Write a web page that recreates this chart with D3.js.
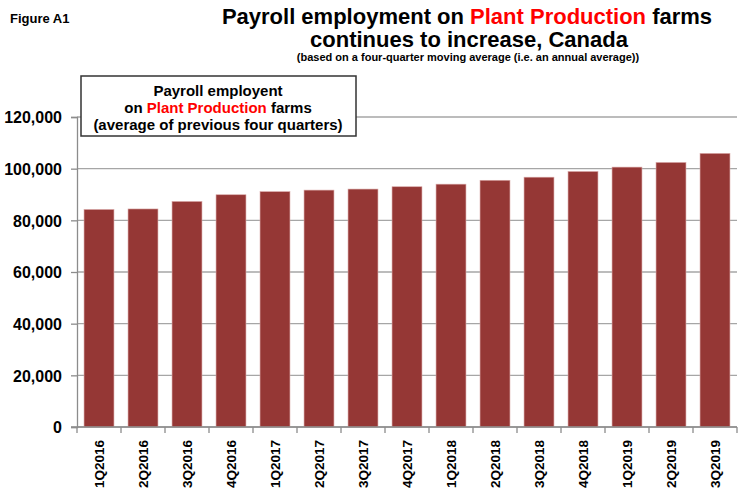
<!DOCTYPE html>
<html>
<head>
<meta charset="utf-8">
<script src="https://cdn.jsdelivr.net/npm/d3@7"></script>
<style>
  body { margin: 0; background: #fff; }
  svg { display: block; font-family: "Liberation Sans", Arial, sans-serif; font-weight: bold; }
</style>
</head>
<body>
<div id="vis-container"></div>
<script>
const width = 738,
    height = 491;

// quarters and payroll employment (four-quarter moving average)
var quarters = ["1Q2016", "2Q2016", "3Q2016", "4Q2016", "1Q2017", "2Q2017", "3Q2017", "4Q2017",
    "1Q2018", "2Q2018", "3Q2018", "4Q2018", "1Q2019", "2Q2019", "3Q2019"];
var employment = [84200, 84400, 87300, 89900, 91100, 91700, 92100, 93000,
    94000, 95500, 96700, 98900, 100600, 102400, 105900];
var yTicks = [0, 20000, 40000, 60000, 80000, 100000, 120000];

var plotLeft = 77, plotRight = 737, plotTop = 117, plotBottom = 427;

var svg = d3.select("#vis-container").append("svg")
    .attr("width", width)
    .attr("height", height);

var x = d3.scaleBand()
    .domain(quarters)
    .range([plotLeft, plotRight])
    .paddingInner(0.32)
    .paddingOuter(0.16);

var y = d3.scaleLinear()
    .domain([0, 120000])
    .range([plotBottom, plotTop]);

// gridlines
svg.append("g")
    .selectAll("line")
    .data(yTicks)
    .enter().append("line")
    .attr("x1", plotLeft).attr("x2", plotRight)
    .attr("y1", d => y(d)).attr("y2", d => y(d))
    .attr("stroke", "#a6a6a6")
    .attr("stroke-width", 1.3);

// bars
svg.append("g")
    .selectAll("rect")
    .data(employment)
    .enter().append("rect")
    .attr("x", (d, i) => x(quarters[i]))
    .attr("y", d => y(d))
    .attr("width", x.bandwidth())
    .attr("height", d => plotBottom - y(d))
    .attr("fill", "#953735")
    .attr("stroke", "#d8a5a4")
    .attr("stroke-width", 0.6);

// y axis
var yAxis = d3.axisLeft(y)
    .tickValues(yTicks)
    .tickSize(6)
    .tickFormat(d3.format(","));

var gy = svg.append("g")
    .attr("transform", "translate(" + plotLeft + ",0)")
    .call(yAxis);
gy.select(".domain").attr("stroke", "#8c8c8c").attr("stroke-width", 1.3);
gy.selectAll(".tick line").attr("stroke", "#8c8c8c").attr("stroke-width", 1.3);
gy.selectAll(".tick text")
    .attr("x", -15)
    .attr("dy", "0.36em")
    .attr("fill", "#000")
    .style("font-size", "16px")
    .style("font-weight", "bold")
    .style("font-family", "Liberation Sans, Arial, sans-serif");

// x axis line and ticks between categories
svg.append("line")
    .attr("x1", plotLeft - 6).attr("x2", plotRight)
    .attr("y1", plotBottom).attr("y2", plotBottom)
    .attr("stroke", "#8c8c8c")
    .attr("stroke-width", 1.3);

var bounds = d3.range(quarters.length + 1).map(i => plotLeft + i * x.step());
svg.append("g")
    .selectAll("line")
    .data(bounds)
    .enter().append("line")
    .attr("x1", d => d).attr("x2", d => d)
    .attr("y1", plotBottom).attr("y2", plotBottom + 6)
    .attr("stroke", "#8c8c8c")
    .attr("stroke-width", 1.3);

svg.append("g")
    .selectAll("text")
    .data(quarters)
    .enter().append("text")
    .attr("transform", d => "translate(" + (x(d) + x.bandwidth() / 2 + 5) + "," + (plotBottom + 13) + ") rotate(-90)")
    .attr("text-anchor", "end")
    .style("font-size", "13.5px")
    .text(d => d);

// titles
svg.append("text")
    .attr("x", 10).attr("y", 23)
    .style("font-size", "13px")
    .text("Figure A1");

var t1 = svg.append("text")
    .attr("x", 467).attr("y", 24)
    .attr("text-anchor", "middle")
    .style("font-size", "22px");
t1.append("tspan").text("Payroll employment on ");
t1.append("tspan").attr("fill", "#ff0000").text("Plant Production");
t1.append("tspan").text(" farms");

svg.append("text")
    .attr("x", 469).attr("y", 47)
    .attr("text-anchor", "middle")
    .style("font-size", "22px")
    .text("continues to increase, Canada");

svg.append("text")
    .attr("x", 468).attr("y", 61)
    .attr("text-anchor", "middle")
    .style("font-size", "11px")
    .text("(based on a four-quarter moving average (i.e. an annual average))");

// legend box
var lg = svg.append("g");
lg.append("rect")
    .attr("x", 81).attr("y", 76)
    .attr("width", 275).attr("height", 60)
    .attr("fill", "#fff")
    .attr("stroke", "#333")
    .attr("stroke-width", 1.5);

lg.append("text")
    .attr("x", 218).attr("y", 96)
    .attr("text-anchor", "middle")
    .style("font-size", "15px")
    .text("Payroll employent");

var l2 = lg.append("text")
    .attr("x", 218).attr("y", 113)
    .attr("text-anchor", "middle")
    .style("font-size", "15px");
l2.append("tspan").text("on ");
l2.append("tspan").attr("fill", "#ff0000").text("Plant Production");
l2.append("tspan").text(" farms");

lg.append("text")
    .attr("x", 218).attr("y", 130)
    .attr("text-anchor", "middle")
    .style("font-size", "15px")
    .text("(average of previous four quarters)");
</script>
</body>
</html>
